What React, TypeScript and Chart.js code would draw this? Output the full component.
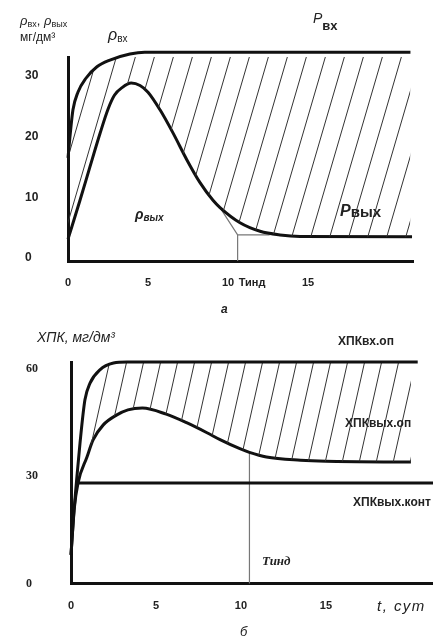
import React, { useEffect, useRef } from 'react';
import { Chart, registerables } from 'chart.js';
Chart.register(...registerables);

// ---------- Chart "а" (top) ----------
const topXTicks = [0, 5, 10, 11.5, 15];
const topXTickLabels = ['0', '5', '10', 'Тинд', '15'];
const topYTicks = [0, 10, 20, 30];
const rhoInT = [0, 0.12, 0.31, 0.62, 1.12, 1.81, 2.62, 3.87, 4.8, 21.4];
const rhoInV = [17, 20.4, 24.9, 27.8, 30.1, 32.0, 33.1, 34.1, 34.4, 34.4];
const rhoOutT = [0, 0.75, 1.37, 2.0, 2.5, 2.9, 3.4, 3.95, 4.5, 5.0, 5.75, 6.56, 7.44, 8.25, 9.06, 9.5, 10.75, 12.0, 13.25, 14.5, 21.5];
const rhoOutV = [3.6, 10.0, 15.5, 21.0, 25.0, 27.3, 28.6, 29.3, 28.9, 27.8, 24.9, 21.1, 16.6, 12.9, 10.0, 8.8, 6.3, 4.9, 4.3, 4.05, 4.0];
const topGuideT = [9.5, 10.6, 12.6];
const topGuideV = [8.8, 4.3, 4.3];
const topDropT = [10.6, 10.6];
const topDropV = [4.3, 0];

// ---------- Chart "б" (bottom) ----------
const botXTicks = [0, 5, 10, 15];
const botYTicks = [0, 30, 60];
const codInT = [0, 0.18, 0.35, 0.53, 0.82, 1.12, 1.7, 2.5, 3.3, 20.4];
const codInV = [8, 20.5, 30, 39.3, 51.4, 56.1, 59.8, 61.7, 62, 62];
const codOutT = [0, 0.18, 0.41, 0.94, 1.3, 1.9, 2.7, 3.35, 4.2, 5.6, 6.8, 8.0, 8.8, 9.9, 10.5, 11.5, 13.5, 15, 20];
const codOutV = [8, 20.5, 28.1, 35.4, 40.2, 44.4, 47.2, 48.6, 49.1, 47.4, 45.0, 42.2, 40.2, 37.8, 36.7, 35.4, 34.5, 34.2, 34];
const codLimitT = [0.4, 21.3];
const codLimitV = [28.1, 28.1];
const botDropT = [10.5, 10.5];
const botDropV = [36.7, 0];

const pts = (xs: number[], ys: number[]) => xs.map((x, i) => ({ x, y: ys[i] }));

function makeHatch(ctx: CanvasRenderingContext2D, w: number, h: number, color: string, lw: number) {
  const c = document.createElement('canvas');
  c.width = w;
  c.height = h;
  const g = c.getContext('2d')!;
  g.strokeStyle = color;
  g.lineWidth = lw;
  for (const dx of [-w, 0, w]) {
    g.beginPath();
    g.moveTo(w + dx, 0);
    g.lineTo(dx, h);
    g.stroke();
  }
  return ctx.createPattern(c, 'repeat')!;
}

const curve = (data: any, extra: any = {}) => ({
  data,
  borderColor: '#111',
  borderWidth: 3,
  pointRadius: 0,
  fill: false,
  cubicInterpolationMode: 'monotone',
  clip: false,
  ...extra,
});

const thin = (data: any) => ({
  data,
  borderColor: '#777',
  borderWidth: 1.2,
  pointRadius: 0,
  fill: false,
  tension: 0,
  clip: false,
});

function axisX(opts: any) {
  const { min, max, ticks, labels, height, padding, font } = opts;
  return {
    type: 'linear',
    min,
    max,
    grid: { display: false, drawTicks: false },
    border: { display: true, width: 3, color: '#111' },
    afterBuildTicks: (s: any) => {
      s.ticks = ticks.map((v: number) => ({ value: v }));
    },
    afterFit: (s: any) => {
      s.height = height;
    },
    ticks: {
      autoSkip: false,
      maxRotation: 0,
      padding,
      color: '#222',
      font,
      callback: (v: number) => {
        const i = ticks.indexOf(v);
        return i >= 0 ? labels[i] : '';
      },
    },
  };
}

function axisY(opts: any) {
  const { min, max, ticks, width, font, labelOffset } = opts;
  return {
    type: 'linear',
    min,
    max,
    grid: { display: false, drawTicks: false },
    border: { display: true, width: 3, color: '#111' },
    afterBuildTicks: (s: any) => {
      s.ticks = ticks.map((v: number) => ({ value: v }));
    },
    afterFit: (s: any) => {
      s.width = width;
    },
    ticks: {
      crossAlign: 'far',
      padding: 0,
      labelOffset,
      color: '#222',
      font,
      callback: (v: number) => String(v),
    },
  };
}

function Sub({ children, size, dy, bold, italic }: any) {
  return (
    <span
      style={{
        fontSize: size,
        position: 'relative',
        top: dy,
        fontWeight: bold ? 'bold' : 'normal',
        fontStyle: italic ? 'italic' : 'normal',
      }}
    >
      {children}
    </span>
  );
}

function Label({ x, base, size, children, bold, italic, family }: any) {
  return (
    <div
      style={{
        position: 'absolute',
        left: x,
        top: base - 0.85 * size,
        fontSize: size,
        lineHeight: 1,
        fontFamily: family || '"Liberation Sans", Arial, sans-serif',
        fontWeight: bold ? 'bold' : 'normal',
        fontStyle: italic ? 'italic' : 'normal',
        color: '#222',
        whiteSpace: 'nowrap',
      }}
    >
      {children}
    </div>
  );
}

export default function App() {
  const topRef = useRef<HTMLCanvasElement>(null);
  const botRef = useRef<HTMLCanvasElement>(null);

  useEffect(() => {
    const tctx = topRef.current!.getContext('2d')!;
    const bctx = botRef.current!.getContext('2d')!;
    const hatchTop = makeHatch(tctx, 19, 65, '#333', 1);
    const hatchBot = makeHatch(bctx, 17, 76, '#333', 1);
    const sansBold = (size: number) => ({ family: '"Liberation Sans", Arial, sans-serif', size, weight: 'bold' });

    const top = new Chart(topRef.current!, {
      type: 'line',
      data: {
        datasets: [
          curve(pts(rhoInT, rhoInV), { fill: '+1', backgroundColor: hatchTop }),
          curve(pts(rhoOutT, rhoOutV)),
          thin(pts(topGuideT, topGuideV)),
          thin(pts(topDropT, topDropV)),
        ] as any,
      },
      options: {
        animation: false,
        responsive: false,
        events: [],
        layout: { padding: { left: 25, top: 57, right: 20, bottom: 0 } },
        plugins: { legend: { display: false }, tooltip: { enabled: false } },
        scales: {
          x: axisX({ min: 0, max: 21.56, ticks: topXTicks, labels: topXTickLabels, height: 59, padding: 15, font: sansBold(11) }),
          y: axisY({ min: 0, max: 33.6, ticks: topYTicks, width: 43, font: sansBold(12), labelOffset: -3 }),
        } as any,
      },
    });

    const bot = new Chart(botRef.current!, {
      type: 'line',
      data: {
        datasets: [
          curve(pts(codInT, codInV), { fill: '+1', backgroundColor: hatchBot }),
          curve(pts(codOutT, codOutV)),
          curve(pts(codLimitT, codLimitV), { cubicInterpolationMode: 'default', tension: 0 }),
          thin(pts(botDropT, botDropV)),
        ] as any,
      },
      options: {
        animation: false,
        responsive: false,
        events: [],
        layout: { padding: { left: 26, top: 42, right: 0, bottom: 0 } },
        plugins: { legend: { display: false }, tooltip: { enabled: false } },
        scales: {
          x: axisX({
            min: 0,
            max: 21.3,
            ticks: botXTicks,
            labels: botXTicks.map(String),
            height: 53.5,
            padding: 16,
            font: sansBold(11),
          }),
          y: axisY({
            min: 0,
            max: 62,
            ticks: botYTicks,
            width: 45,
            font: { family: '"Liberation Serif", "Times New Roman", serif', size: 12, weight: 'bold' },
            labelOffset: 0,
          }),
        } as any,
      },
    });

    return () => {
      top.destroy();
      bot.destroy();
    };
  }, []);

  return (
    <div style={{ position: 'absolute', left: 0, top: 0, width: 433, height: 637, background: '#fff', overflow: 'hidden' }}>
      <canvas ref={topRef} width={433} height={320} style={{ position: 'absolute', left: 0, top: 0, width: 433, height: 320 }} />
      <canvas ref={botRef} width={433} height={317} style={{ position: 'absolute', left: 0, top: 320, width: 433, height: 317 }} />

      {/* labels of chart а */}
      <Label x={20} base={25} size={13}>
        <i>ρ</i><Sub size={9} dy={2}>вх</Sub>, <i>ρ</i><Sub size={9} dy={2}>вых</Sub>
      </Label>
      <Label x={20} base={41} size={12}>мг/дм³</Label>
      <Label x={108} base={41} size={16}>
        <i>ρ</i><Sub size={10} dy={2}>вх</Sub>
      </Label>
      <Label x={313} base={23} size={14}>
        <i>P</i><Sub size={13} dy={7} bold>вх</Sub>
      </Label>
      <Label x={340} base={217} size={16} bold italic>
        P<Sub size={15} dy={1} bold>вых</Sub>
      </Label>
      <Label x={135} base={219} size={14} bold italic>
        ρ<Sub size={10} dy={2} bold italic>вых</Sub>
      </Label>
      <Label x={221} base={313} size={12} bold italic>а</Label>

      {/* labels of chart б */}
      <Label x={37} base={342} size={14} italic>ХПК, мг/дм³</Label>
      <Label x={338} base={345} size={12} bold>ХПКвх.оп</Label>
      <Label x={345} base={427} size={12} bold>ХПКвых.оп</Label>
      <Label x={353} base={506} size={12} bold>ХПКвых.конт</Label>
      <Label x={262} base={565} size={13} bold italic family={'"Liberation Serif", "Times New Roman", serif'}>Тинд</Label>
      <Label x={377} base={611} size={15} italic>
        <span style={{ letterSpacing: 1.5 }}>t, сут</span>
      </Label>
      <Label x={240} base={636} size={13} italic>б</Label>
    </div>
  );
}
